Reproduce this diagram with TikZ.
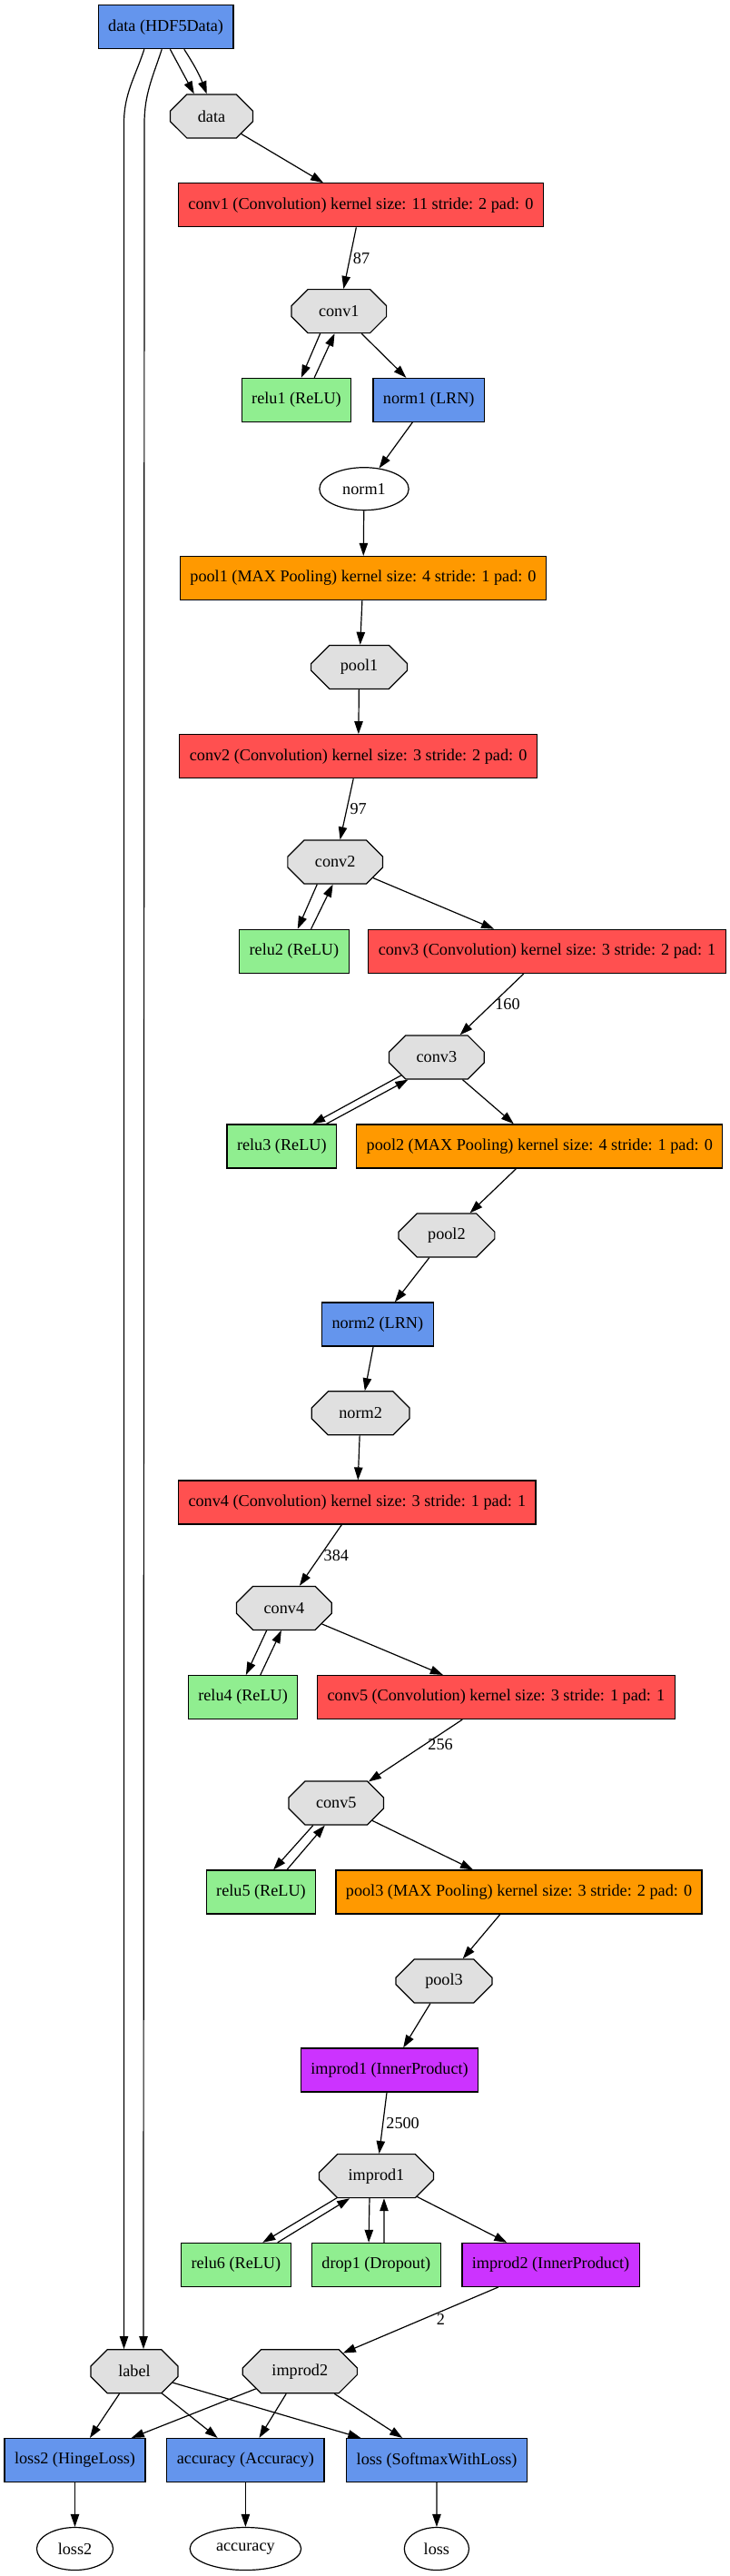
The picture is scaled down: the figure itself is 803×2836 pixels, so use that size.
\documentclass[tikz,border=0pt]{standalone}
\usepackage{fontspec}
\setmainfont{Liberation Serif}
\usetikzlibrary{arrows.meta,shapes.geometric,shapes.misc}
\definecolor{dblue}{HTML}{6495ED}
\definecolor{dred}{HTML}{FF5050}
\definecolor{dorange}{HTML}{FF9900}
\definecolor{dpurple}{HTML}{CC33FF}
\definecolor{dgreen}{HTML}{90EE90}
\definecolor{dgrey}{HTML}{E0E0E0}

\begin{document}
\begin{tikzpicture}[x=0.5pt,y=-0.5pt,
    font=\fontsize{9.1}{11}\selectfont,
    layer/.style={rectangle, draw, line width=0.6pt, inner xsep=5.5pt, inner ysep=0pt, minimum height=24pt, fill=#1},
    blob/.style={chamfered rectangle, chamfered rectangle xsep=12.5pt, chamfered rectangle ysep=6pt,
        draw, line width=0.6pt, inner xsep=12pt, inner ysep=0pt, minimum height=24pt, fill=dgrey},
    outp/.style={ellipse, draw, line width=0.6pt, inner xsep=5.5pt, inner ysep=0pt, minimum height=23.5pt},
    edge/.style={-{Triangle[length=7pt,width=4.7pt]}, line width=0.6pt},
    elabel/.style={midway, right, inner sep=1.5pt}]
\useasboundingbox (0,0) rectangle (803,2836);

\node[layer=dblue] (hdf) at (182.6,29.7) {data (HDF5Data)};
\node[blob] (datab) at (233,128) {data};
\node[layer=dred] (conv1) at (397.4,225.8) {conv1 (Convolution) kernel size: 11 stride: 2 pad: 0};
\node[blob] (conv1b) at (373.3,342.6) {conv1};
\node[layer=dgreen] (relu1) at (326.5,440.4) {relu1 (ReLU)};
\node[layer=dblue] (norm1) at (472.2,440.4) {norm1 (LRN)};
\node[outp] (norm1b) at (401,538.2) {norm1};
\node[layer=dorange] (pool1) at (400,636.5) {pool1 (MAX Pooling) kernel size: 4 stride: 1 pad: 0};
\node[blob] (pool1b) at (395.6,734.4) {pool1};
\node[layer=dred] (conv2) at (394.6,832.7) {conv2 (Convolution) kernel size: 3 stride: 2 pad: 0};
\node[blob] (conv2b) at (369.2,949) {conv2};
\node[layer=dgreen] (relu2) at (323.9,1047.3) {relu2 (ReLU)};
\node[layer=dred] (conv3) at (602.5,1047.3) {conv3 (Convolution) kernel size: 3 stride: 2 pad: 1};
\node[blob] (conv3b) at (480.9,1164) {conv3};
\node[layer=dgreen] (relu3) at (310.3,1261.9) {relu3 (ReLU)};
\node[layer=dorange] (pool2) at (594.3,1261.9) {pool2 (MAX Pooling) kernel size: 4 stride: 1 pad: 0};
\node[blob] (pool2b) at (491.9,1360) {pool2};
\node[layer=dblue] (norm2) at (415.8,1458) {norm2 (LRN)};
\node[blob] (norm2b) at (397.1,1555.8) {norm2};
\node[layer=dred] (conv4) at (393.3,1654) {conv4 (Convolution) kernel size: 3 stride: 1 pad: 1};
\node[blob] (conv4b) at (312.9,1770.4) {conv4};
\node[layer=dgreen] (relu4) at (267.6,1868.5) {relu4 (ReLU)};
\node[layer=dred] (conv5) at (546.4,1868.5) {conv5 (Convolution) kernel size: 3 stride: 1 pad: 1};
\node[blob] (conv5b) at (370.3,1985) {conv5};
\node[layer=dgreen] (relu5) at (287.5,2083) {relu5 (ReLU)};
\node[layer=dorange] (pool3) at (571.5,2083) {pool3 (MAX Pooling) kernel size: 3 stride: 2 pad: 0};
\node[blob] (pool3b) at (489,2181) {pool3};
\node[layer=dpurple] (improd1) at (429.1,2279) {improd1 (InnerProduct)};
\node[blob] (improd1b) at (414.5,2395.6) {improd1};
\node[layer=dgreen] (relu6) at (259.9,2493.4) {relu6 (ReLU)};
\node[layer=dgreen] (drop1) at (414.3,2493.4) {drop1 (Dropout)};
\node[layer=dpurple] (improd2) at (606.6,2493.4) {improd2 (InnerProduct)};
\node[blob] (labelb) at (148,2610.7) {label};
\node[blob] (improd2b) at (330.3,2610.7) {improd2};
\node[layer=dblue] (loss2) at (82.5,2708.5) {loss2 (HingeLoss)};
\node[layer=dblue] (accuracy) at (270.4,2708.5) {accuracy (Accuracy)};
\node[layer=dblue] (loss) at (481.1,2708.5) {loss (SoftmaxWithLoss)};
\node[outp] (loss2b) at (82.5,2806) {loss2};
\node[outp] (accuracyb) at (270.4,2806) {accuracy};
\node[outp] (lossb) at (480.9,2806) {loss};

% data layer
\draw[edge] ([shift={(4.8,0)}]hdf.south) -- (datab.128);
\draw[edge] ([shift={(20.2,0)}]hdf.south) to[bend left=6] (datab.102);
\draw[edge] ([shift={(-23.8,0)}]hdf.south) to[out=-108,in=90] ([shift={(-11.5,-2450)}]labelb.north) -- ([shift={(-11.5,0)}]labelb.north);
\draw[edge] ([shift={(-4.4,0)}]hdf.south) to[out=-108,in=90] ([shift={(11,-2450)}]labelb.north) -- ([shift={(10,0)}]labelb.north);
\draw[edge] (datab) -- (conv1);

\draw[edge] (conv1) -- (conv1b) node[elabel] (l87) {87};
\draw[edge] (conv1b.230) -- ([shift={(5.3,0)}]relu1.north);
\draw[edge] ([shift={(19.7,0)}]relu1.north) -- (conv1b.259);
\draw[edge] (conv1b) -- (norm1);
\draw[edge] (norm1) -- (norm1b);
\draw[edge] (norm1b) -- (pool1);
\draw[edge] (pool1) -- (pool1b);
\draw[edge] (pool1b) -- (conv2);

\draw[edge] (conv2) -- (conv2b) node[elabel] (l97) {97};
\draw[edge] (conv2b.231) -- ([shift={(3.9,0)}]relu2.north);
\draw[edge] ([shift={(18.7,0)}]relu2.north) -- (conv2b.264);
\draw[edge] (conv2b) -- (conv3);
\draw[edge] (conv3) -- (conv3b) node[elabel] (l160) {160};
\draw[edge] (conv3b.207) -- ([shift={(33.8,0)}]relu3.north);
\draw[edge] ([shift={(49.2,0)}]relu3.north) -- (conv3b.218);
\draw[edge] (conv3b) -- (pool2);
\draw[edge] (pool2) -- (pool2b);
\draw[edge] (pool2b) -- (norm2);
\draw[edge] (norm2) -- (norm2b);
\draw[edge] (norm2b) -- (conv4);

\draw[edge] (conv4) -- (conv4b) node[elabel] (l384) {384};
\draw[edge] (conv4b.232) -- ([shift={(3.3,0)}]relu4.north);
\draw[edge] ([shift={(19.2,0)}]relu4.north) -- (conv4b.263);
\draw[edge] (conv4b) -- (conv5);
\draw[edge] (conv5) -- (conv5b) node[elabel,pos=0.4] (l256) {256};
\draw[edge] (conv5b.224) -- ([shift={(13.6,0)}]relu5.north);
\draw[edge] ([shift={(28.5,0)}]relu5.north) -- (conv5b.243);
\draw[edge] (conv5b) -- (pool3);
\draw[edge] (pool3) -- (pool3b);
\draw[edge] (pool3b) -- (improd1);

\draw[edge] (improd1) -- (improd1b) node[elabel] (l2500) {2500};
\draw[edge] (improd1b.209) -- ([shift={(29.4,0)}]relu6.north);
\draw[edge] ([shift={(45.8,0)}]relu6.north) -- (improd1b.220);
\draw[edge] (improd1b.253) -- ([shift={(-8.2,0)}]drop1.north);
\draw[edge] ([shift={(8.7,0)}]drop1.north) -- (improd1b.289);
\draw[edge] (improd1b) -- (improd2);
\draw[edge] (improd2) -- (improd2b) node[pos=0.37, below, inner sep=1pt] (l2) {2};

% losses
\foreach \n in {loss2,accuracy,loss} {
  \draw[edge] (labelb) -- (\n);
  \draw[edge] (improd2b) -- (\n);
  \draw[edge] (\n) -- (\n b);
}
\end{tikzpicture}
\end{document}
